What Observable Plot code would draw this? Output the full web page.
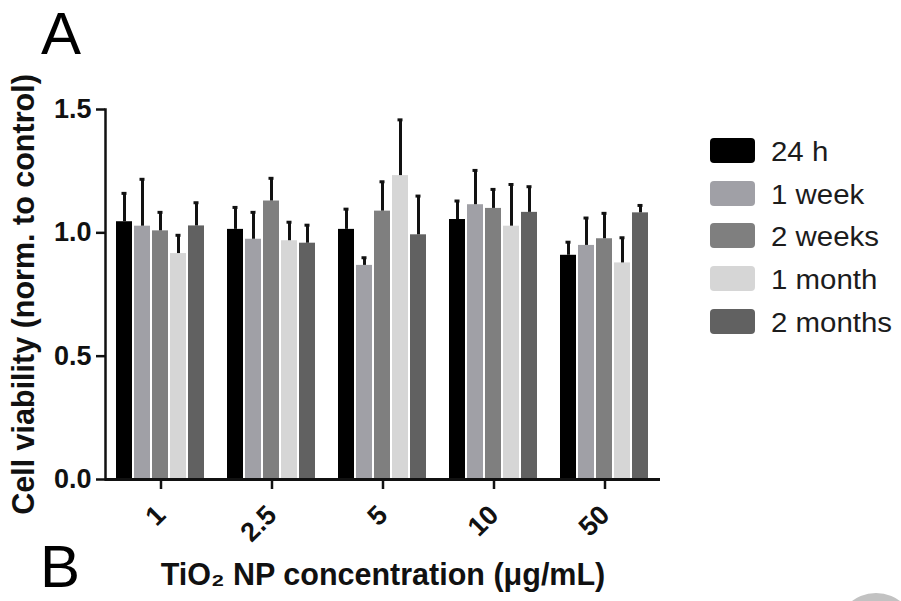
<!DOCTYPE html>
<html>
<head>
<meta charset="utf-8">
<script src="https://cdn.jsdelivr.net/npm/d3@7"></script>
<script src="https://cdn.jsdelivr.net/npm/@observablehq/plot@0.6"></script>
<style>
  body { margin: 0; background: #ffffff; font-family: "Liberation Sans", Arial, sans-serif; }
  #wrap { position: relative; width: 901px; height: 601px; overflow: hidden; background: #fff; }
  #chart { position: absolute; left: 0; top: 0; }
  .panel { position: absolute; font-size: 60px; line-height: 1.117; color: #000; }
  #legend { position: absolute; left: 0; top: 0; }
  .lrow { position: absolute; height: 25px; }
  .sw { position: absolute; left: 0; top: 0; width: 45px; height: 25px; border-radius: 4px; }
  .lt { position: absolute; left: 61px; top: 2px; font-size: 27px; line-height: 25px; color: #1c1c1c; white-space: nowrap; transform: scaleX(1.09); transform-origin: 0 50%; }
  #blob { position: absolute; left: 836px; top: 593px; width: 80px; height: 80px; border-radius: 50%; background: #c2c2c2; }
  svg text { font-weight: bold; }
  g[aria-label="y-axis label"], g[aria-label="fx-axis label"] { font-size: 30.5px; }
</style>
</head>
<body>
<div id="wrap">
  <div id="chart"></div>
  <div class="panel" style="left:41px; top:0px;">A</div>
  <div class="panel" style="left:40px; top:533px;">B</div>
  <div id="legend"></div>
  <div id="blob"></div>
</div>
<script>
// Categories
const concentrations = ["1", "2.5", "5", "10", "50"];
const seriesNames = ["24 h", "1 week", "2 weeks", "1 month", "2 months"];
const seriesColors = ["#000000", "#a0a0a6", "#7f7f7f", "#d6d6d6", "#616161"];

// Mean cell viability per series (one value per concentration)
const mean24h     = [1.045, 1.014, 1.014, 1.054, 0.909];
const mean1week   = [1.027, 0.974, 0.868, 1.114, 0.949];
const mean2weeks  = [1.008, 1.129, 1.088, 1.099, 0.976];
const mean1month  = [0.916, 0.968, 1.232, 1.027, 0.878];
const mean2months = [1.028, 0.958, 0.992, 1.083, 1.081];

// Error bar (upper) sizes
const err24h     = [0.115, 0.089, 0.082, 0.075, 0.053];
const err1week   = [0.190, 0.109, 0.031, 0.139, 0.111];
const err2weeks  = [0.075, 0.092, 0.119, 0.077, 0.103];
const err1month  = [0.074, 0.075, 0.226, 0.169, 0.102];
const err2months = [0.094, 0.073, 0.157, 0.104, 0.030];

// Axis ticks
const yTicks = [0, 0.5, 1.0, 1.5];
const yLabel = "Cell viability (norm. to control)";
const xLabel = "TiO₂ NP concentration (μg/mL)";

const means = [mean24h, mean1week, mean2weeks, mean1month, mean2months];
const errs = [err24h, err1week, err2weeks, err1month, err2months];

const data = concentrations.flatMap((c, i) =>
  seriesNames.map((s, j) => ({conc: c, series: s, value: means[j][i], err: errs[j][i]}))
);

const chart = Plot.plot({
  width: 901,
  height: 601,
  marginLeft: 104,
  marginRight: 241,
  marginTop: 109,
  marginBottom: 122,
  style: {fontFamily: "Liberation Sans, Arial, sans-serif", color: "#111", background: "transparent"},
  fx: {domain: concentrations, padding: 0, label: null},
  x: {domain: seriesNames, paddingInner: 0.1, paddingOuter: 0.51, axis: null},
  y: {domain: [0, 1.5]},
  color: {domain: seriesNames, range: seriesColors},
  marks: [
    Plot.barY(data, {fx: "conc", x: "series", y: "value", fill: "series"}),
    Plot.ruleX(data, {fx: "conc", x: "series", y1: "value", y2: d => d.value + d.err, stroke: "#111", strokeWidth: 3}),
    Plot.tickY(data, {fx: "conc", x: "series", y: d => d.value + d.err, stroke: "#111", strokeWidth: 3, insetLeft: 5.5, insetRight: 5.5}),
    Plot.ruleY([0], {stroke: "#111", strokeWidth: 3}),
    Plot.frame({anchor: "left", facetAnchor: "left", stroke: "#111", strokeWidth: 2.5}),
    Plot.axisY({
      ticks: yTicks, tickFormat: d3.format(".1f"), tickSize: 9, tickPadding: 5,
      fontSize: 27, strokeWidth: 2.5,
      label: yLabel, labelAnchor: "center", labelArrow: "none", labelOffset: 93
    }),
    Plot.axisFx({
      anchor: "bottom", tickSize: 10, tickRotate: -45, tickPadding: 21, fontSize: 27, strokeWidth: 2.5,
      label: xLabel, labelAnchor: "center", labelArrow: "none", labelOffset: 105
    })
  ]
});
document.getElementById("chart").appendChild(chart);

// Legend
const legend = document.getElementById("legend");
seriesNames.forEach((s, i) => {
  const row = document.createElement("div");
  row.className = "lrow";
  row.style.left = "710px";
  row.style.top = (138 + i * 42.7) + "px";
  const sw = document.createElement("div");
  sw.className = "sw";
  sw.style.background = seriesColors[i];
  const t = document.createElement("div");
  t.className = "lt";
  t.textContent = s;
  row.appendChild(sw);
  row.appendChild(t);
  legend.appendChild(row);
});
</script>
</body>
</html>
